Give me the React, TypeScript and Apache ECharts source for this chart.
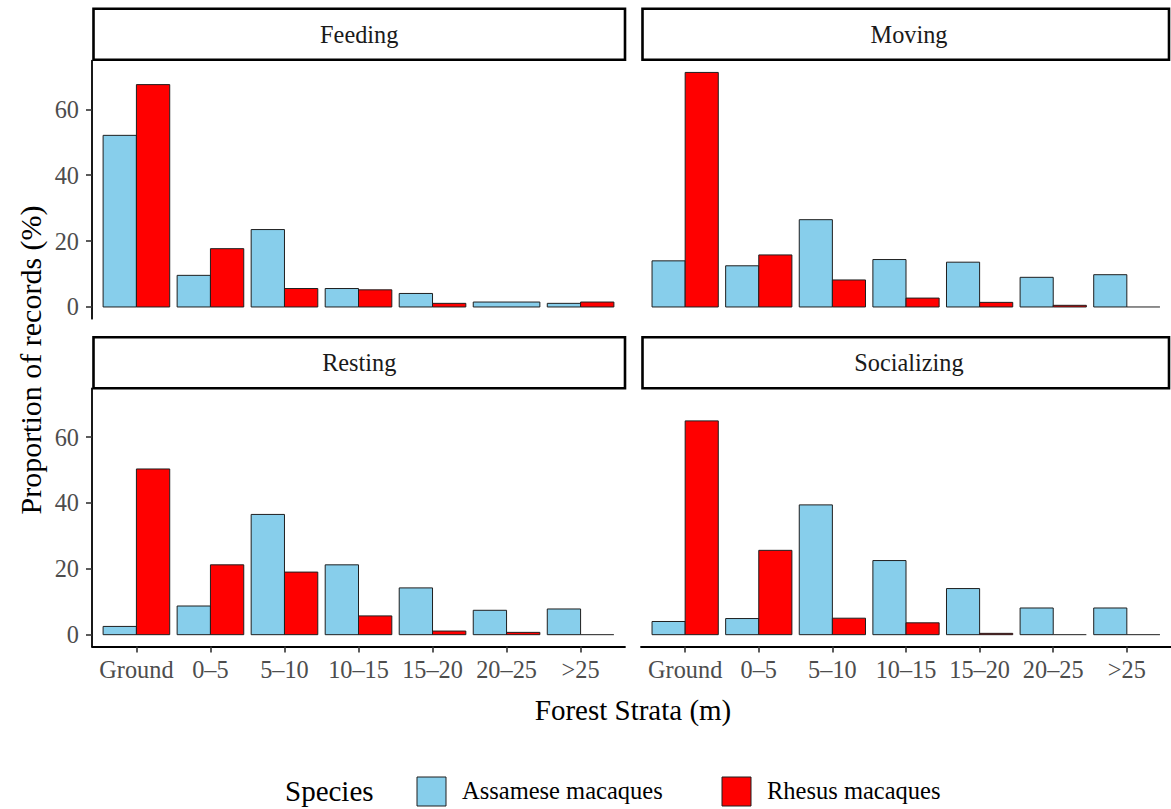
import React, { useEffect, useRef } from "react";
import * as echarts from "echarts";

// Forest strata categories (x axis)
const categories = ["Ground", "0–5", "5–10", "10–15", "15–20", "20–25", ">25"];

// Proportion of records (%) per stratum; null = no records for that species
const feedingAssamese = [52.1, 9.6, 23.5, 5.6, 4.1, 1.5, 1.1];
const feedingRhesus = [67.5, 17.7, 5.6, 5.2, 1.1, null, 1.5];
const movingAssamese = [14.0, 12.5, 26.5, 14.4, 13.6, 9.0, 9.8];
const movingRhesus = [71.2, 15.8, 8.2, 2.7, 1.4, 0.5, 0];
const restingAssamese = [2.5, 8.7, 36.5, 21.2, 14.2, 7.4, 7.8];
const restingRhesus = [50.3, 21.2, 19.0, 5.7, 1.1, 0.7, 0];
const socializingAssamese = [4.0, 4.9, 39.4, 22.5, 14.0, 8.1, 8.1];
const socializingRhesus = [64.9, 25.6, 5.0, 3.6, 0.4, 0, 0];

const yTicks = [0, 20, 40, 60];
const speciesNames = ["Assamese macaques", "Rhesus macaques"];

const FONT = "Liberation Serif";
const COLORS = ["#87CEEB", "#FF0000"];
const BORDER = "#1f1f1f";

const panels = [
  { title: "Feeding", a: feedingAssamese, r: feedingRhesus },
  { title: "Moving", a: movingAssamese, r: movingRhesus },
  { title: "Resting", a: restingAssamese, r: restingRhesus },
  { title: "Socializing", a: socializingAssamese, r: socializingRhesus },
];

// panel geometry (pixels)
const PANEL_W = 533;
const PANEL_H = 258;
const COL_X = [92, 641];
const ROW_Y = [60.7, 388.4];
const STRIP_Y = [8.8, 337.2];
const STRIP_H = 51;

// y range with 5% expansion around the data range
const Y_MAX_DATA = 71.2;
const Y_MIN = -0.05 * Y_MAX_DATA;
const Y_MAX = 1.05 * Y_MAX_DATA;

const SMALL = 24.3;
const LARGE = 29;

function buildItems(a: (number | null)[], r: (number | null)[]) {
  const items: number[][] = [];
  categories.forEach((_, i) => {
    const va = a[i];
    const vr = r[i];
    const full = va == null || vr == null ? 1 : 0;
    if (va != null) items.push([i + 1, va, 0, full]);
    if (vr != null) items.push([i + 1, vr, 1, full]);
  });
  return items;
}

function renderBar(params: any, api: any) {
  const xc = api.value(0);
  const v = api.value(1);
  const sp = api.value(2);
  const full = api.value(3);
  const band = api.size([1, 0])[0];
  const gw = band * 0.9;
  const base = api.coord([xc, 0]);
  const top = api.coord([xc, v]);
  let x0 = base[0] - gw / 2;
  let w = gw / 2;
  if (full) w = gw;
  else if (sp === 1) x0 += gw / 2;
  const h = base[1] - top[1];
  if (h < 0.8) {
    return {
      type: "line",
      shape: { x1: x0, y1: base[1], x2: x0 + w, y2: base[1] },
      style: { stroke: BORDER, lineWidth: 1 + h },
    };
  }
  return {
    type: "rect",
    shape: { x: x0, y: top[1], width: w, height: h },
    style: { fill: COLORS[sp], stroke: BORDER, lineWidth: 1 },
  };
}

function textStyle(text: string, size: number, fill: string, align: string) {
  return {
    text,
    fill,
    fontFamily: FONT,
    fontSize: size,
    align,
    verticalAlign: "middle",
  };
}

export default function App() {
  const ref = useRef<HTMLDivElement>(null);

  useEffect(() => {
    if (!ref.current) return;
    const chart = echarts.init(ref.current, null, { renderer: "svg" });

    const grids: any[] = [];
    const xAxes: any[] = [];
    const yAxes: any[] = [];
    const series: any[] = [];
    const graphics: any[] = [];

    panels.forEach((p, idx) => {
      const col = idx % 2;
      const row = Math.floor(idx / 2);
      grids.push({
        left: COL_X[col],
        top: ROW_Y[row],
        width: PANEL_W,
        height: PANEL_H,
        containLabel: false,
      });
      const bottomRow = row === 1;
      xAxes.push({
        type: "value",
        gridIndex: idx,
        min: 0.4,
        max: 7.6,
        show: bottomRow,
        splitLine: { show: false },
        axisLine: { show: bottomRow, onZero: false, lineStyle: { color: "#000", width: 1.8 } },
        axisTick: {
          show: bottomRow,
          customValues: [1, 2, 3, 4, 5, 6, 7],
          length: 6,
          lineStyle: { color: "#333", width: 1.6 },
        },
        axisLabel: {
          show: bottomRow,
          customValues: [1, 2, 3, 4, 5, 6, 7],
          formatter: (v: number) => categories[Math.round(v) - 1] ?? "",
          color: "#4D4D4D",
          fontFamily: FONT,
          fontSize: SMALL,
          margin: 11,
        },
      });
      const leftCol = col === 0;
      yAxes.push({
        type: "value",
        gridIndex: idx,
        min: Y_MIN,
        max: Y_MAX,
        show: leftCol,
        splitLine: { show: false },
        axisLine: { show: leftCol, onZero: false, lineStyle: { color: "#000", width: 1.8 } },
        axisTick: {
          show: leftCol,
          customValues: yTicks,
          length: 6,
          lineStyle: { color: "#333", width: 1.6 },
        },
        axisLabel: {
          show: leftCol,
          customValues: yTicks,
          color: "#4D4D4D",
          fontFamily: FONT,
          fontSize: SMALL,
          margin: 13,
        },
      });
      series.push({
        type: "custom",
        name: p.title,
        xAxisIndex: idx,
        yAxisIndex: idx,
        renderItem: renderBar,
        data: buildItems(p.a, p.r),
        clip: false,
      });

      // facet strip
      const sx = COL_X[col] + 1.5;
      const sw = col === 0 ? PANEL_W - 1.5 : 1169 - sx;
      graphics.push({
        type: "rect",
        shape: { x: sx, y: STRIP_Y[row], width: sw, height: STRIP_H },
        style: { fill: "#fff", stroke: "#000", lineWidth: 2.6 },
      });
      graphics.push({
        type: "text",
        x: sx + (col === 0 ? sw : PANEL_W) / 2,
        y: STRIP_Y[row] + STRIP_H / 2,
        style: textStyle(p.title, SMALL, "#1A1A1A", "center"),
      });
    });

    // axis titles
    graphics.push({
      type: "text",
      x: 633,
      y: 710,
      style: textStyle("Forest Strata (m)", LARGE, "#000", "center"),
    });
    graphics.push({
      type: "text",
      x: 30,
      y: 360,
      rotation: Math.PI / 2,
      style: textStyle("Proportion of records (%)", 30, "#000", "center"),
    });

    // legend
    graphics.push({
      type: "text",
      x: 285,
      y: 791,
      style: textStyle("Species", LARGE, "#000", "left"),
    });
    const keyX = [417, 722];
    speciesNames.forEach((name, i) => {
      graphics.push({
        type: "rect",
        shape: { x: keyX[i], y: 777, width: 29, height: 29 },
        style: { fill: COLORS[i], stroke: BORDER, lineWidth: 1 },
      });
      graphics.push({
        type: "text",
        x: keyX[i] + 45,
        y: 790,
        style: textStyle(name, 24.5, "#000", "left"),
      });
    });

    chart.setOption({
      animation: false,
      backgroundColor: "#fff",
      grid: grids,
      xAxis: xAxes,
      yAxis: yAxes,
      series,
      graphic: graphics,
    });

    return () => chart.dispose();
  }, []);

  return (
    <div
      ref={ref}
      style={{ position: "fixed", left: 0, top: 0, width: 1171, height: 809 }}
    />
  );
}
